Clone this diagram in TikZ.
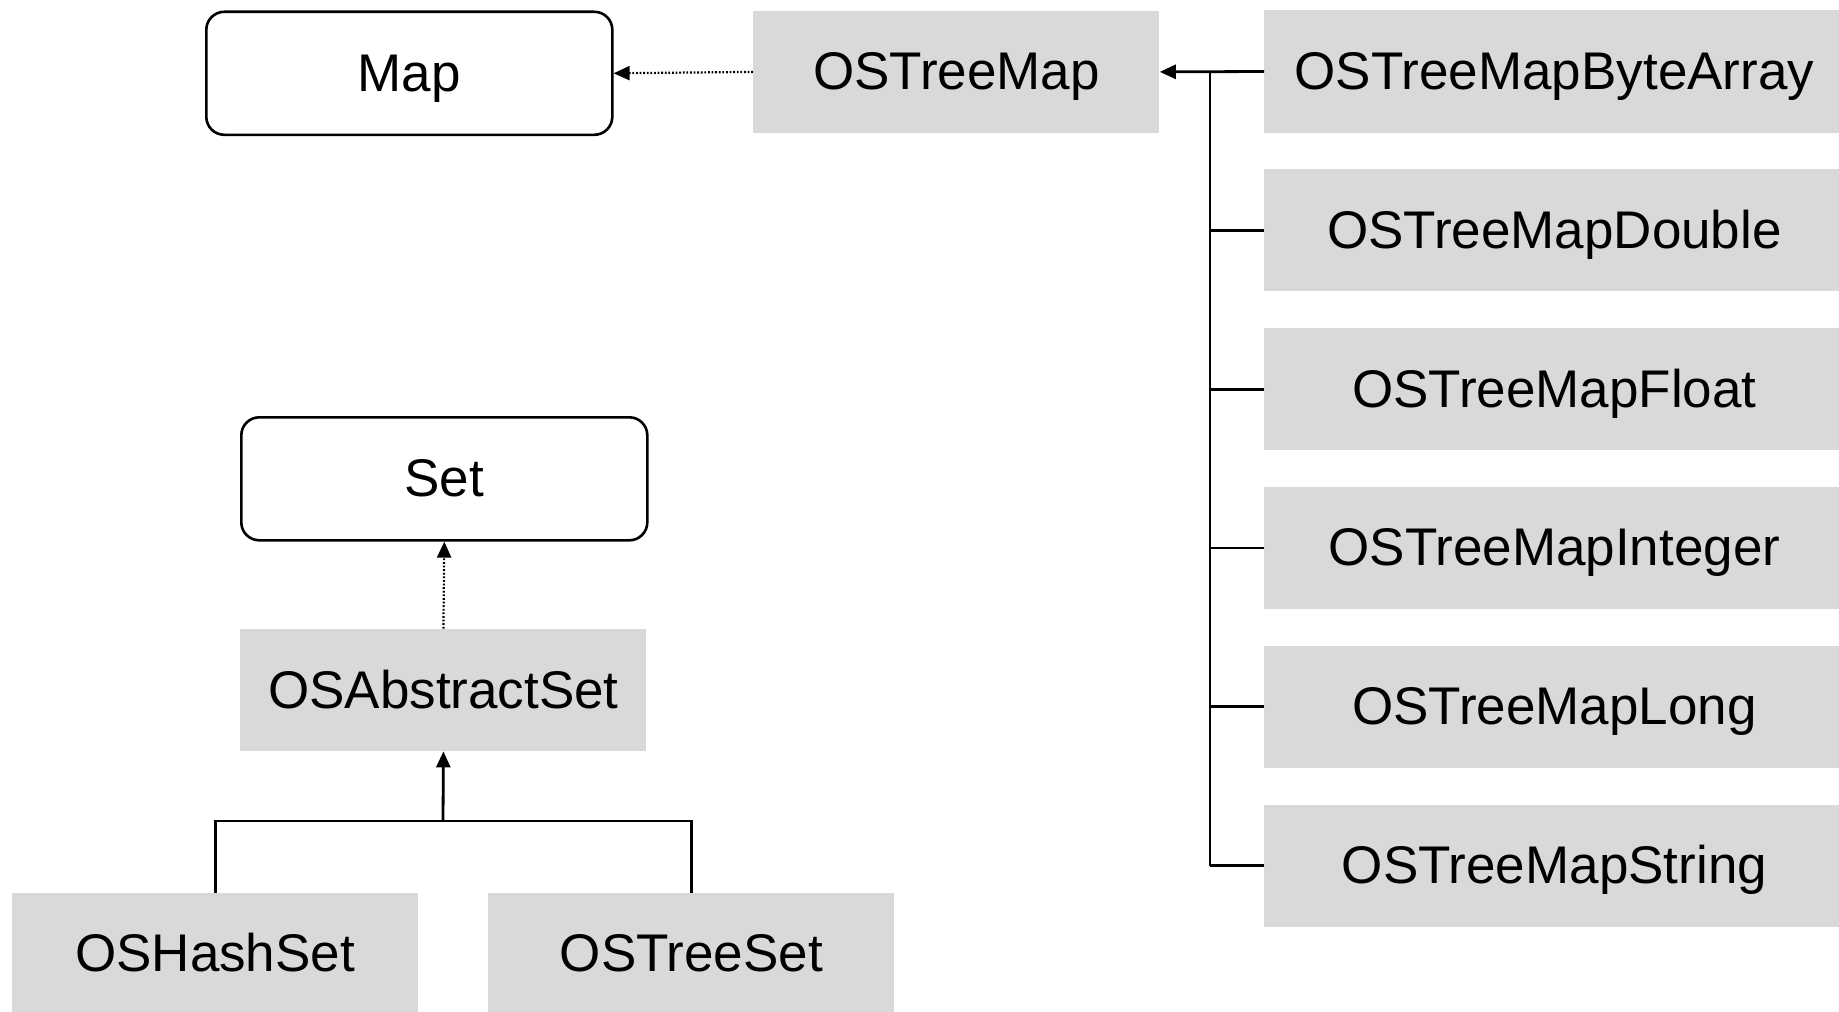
\documentclass[tikz,border=0pt]{standalone}
\usepackage{fontspec}
\setmainfont{Liberation Sans}
\usetikzlibrary{arrows.meta}
\definecolor{boxgray}{HTML}{D9D9D9}
\begin{document}
\begin{tikzpicture}[x=0.5pt,y=-0.5pt,
  label/.style={font=\fontsize{26.5}{30}\selectfont, inner sep=0pt, text=black,
                text height=18pt, text depth=-0.8pt},
  cls/.style={label, fill=boxgray, draw=none, minimum width=203pt, minimum height=61pt},
  wide/.style={cls, minimum width=290pt},
  iface/.style={label, fill=white, draw=black, line width=1.3pt, rounded corners=9pt,
                minimum width=203pt, minimum height=61.5pt},
  tie/.style={draw=black, line width=1.4pt},
  inh/.style={tie, -{Triangle[length=8pt,width=7pt]}},
  impl/.style={draw=black, line width=1.1pt, dash pattern=on 0.9pt off 0.9pt,
               -{Triangle[length=8pt,width=7pt]}}
]
\useasboundingbox[fill=white] (0,0) rectangle (1839,1011);

% Map hierarchy
\node[iface, anchor=north west] (map) at (205,10.5) {Map};
\node[cls, anchor=north west] (treemap) at (753,10.5) {OSTreeMap};
\node[wide, anchor=west] (bytearray) at (1264,71.5) {OSTreeMapByteArray};
\node[wide, anchor=west] (double) at (1264,230.3) {OSTreeMapDouble};
\node[wide, anchor=west] (float) at (1264,389.1) {OSTreeMapFloat};
\node[wide, anchor=west] (integer) at (1264,547.9) {OSTreeMapInteger};
\node[wide, anchor=west] (long) at (1264,706.7) {OSTreeMapLong};
\node[wide, anchor=west] (string) at (1264,865.5) {OSTreeMapString};
\coordinate (trunk) at (1210,71.5);

\draw[impl] (treemap.west) -- (map.east);
\draw[inh] (bytearray.west) -- (treemap.east);
\draw[tie] (bytearray.west -| trunk) -- (string.west -| trunk);
\foreach \c in {double,float,integer,long,string}
  \draw[tie] (\c.west) -- (\c.west -| trunk);

% Set hierarchy
\node[iface, anchor=north west] (set) at (240,416) {Set};
\node[cls, anchor=north west] (abstract) at (240,628.6) {OSAbstractSet};
\node[cls, anchor=north west] (hash) at (11.7,892.5) {OSHashSet};
\node[cls, anchor=north west] (treeset) at (488,892.5) {OSTreeSet};
\coordinate (join) at (443,821);

\draw[impl] (abstract.north) -- (set.south);
\draw[tie] (hash.north) |- (join) -| (treeset.north);
\draw[inh] (join) -- (abstract.south);
\end{tikzpicture}
\end{document}
